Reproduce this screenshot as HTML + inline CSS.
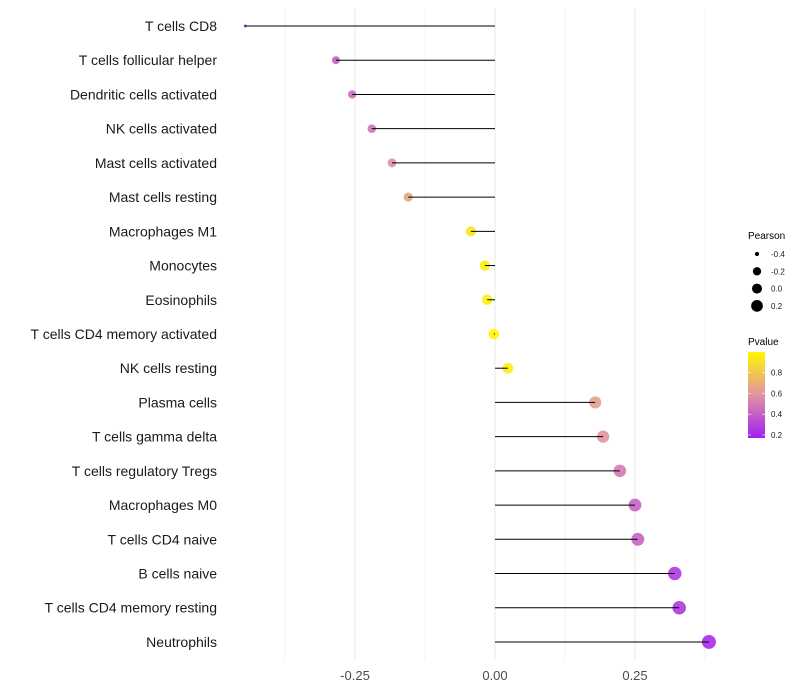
<!DOCTYPE html>
<html><head><meta charset="utf-8"><style>
body{margin:0;background:#fff;}
svg{display:block;font-family:"Liberation Sans",sans-serif;}
</style></head><body>
<svg id="chart" width="800" height="700" viewBox="0 0 800 700">
<g id="grid"></g>
<g id="ylabels"></g>
<g id="marks"></g>
<g id="xticks"></g>
<g id="legend">
<text x="748" y="239" font-size="10" fill="#000">Pearson</text>
<g id="sizeleg"></g>
<text x="748" y="345" font-size="10" fill="#000">Pvalue</text>
<defs><linearGradient id="pg" x1="0" y1="1" x2="0" y2="0">
<stop offset="0" stop-color="#a21ff0"/><stop offset="0.5" stop-color="#e094a4"/><stop offset="1" stop-color="#fff700"/></linearGradient></defs>
<rect x="748" y="352" width="17" height="86" fill="url(#pg)"/>
<g id="colleg"></g>
</g>
</svg>
<script>
const categories=["T cells CD8","T cells follicular helper","Dendritic cells activated","NK cells activated","Mast cells activated","Mast cells resting","Macrophages M1","Monocytes","Eosinophils","T cells CD4 memory activated","NK cells resting","Plasma cells","T cells gamma delta","T cells regulatory  Tregs ","Macrophages M0","T cells CD4 naive","B cells naive","T cells CD4 memory resting","Neutrophils"];
const pearson=[-0.446,-0.284,-0.255,-0.220,-0.184,-0.155,-0.043,-0.018,-0.014,-0.002,0.023,0.179,0.193,0.223,0.250,0.255,0.321,0.329,0.382];
const pvalue=[0.18,0.40,0.44,0.48,0.58,0.66,0.92,0.97,0.97,1.0,0.96,0.64,0.6,0.5,0.42,0.42,0.27,0.27,0.22];
const xTicks=[-0.25,0,0.25];
const xTickLabels=["-0.25","0.00","0.25"];
const sizeLegend=[-0.4,-0.2,0.0,0.2];
const sizeLegendLabels=["-0.4","-0.2","0.0","0.2"];
const colorLegend=[0.2,0.4,0.6,0.8];
const colorLegendLabels=["0.2","0.4","0.6","0.8"];

const NS="http://www.w3.org/2000/svg";
const X=v=>495+560*v;
const Y=i=>26+i*34.22;
const R=v=>v<-0.284?Math.max(1.3,4+(v+0.284)*15.4):5.28+4.5*v;
const PY=p=>437-(p-0.18)/(1.0-0.18)*85;
function lerp(a,b,t){return a.map((x,k)=>Math.round(x+(b[k]-x)*t));}
function col(p){const t=Math.min(1,Math.max(0,(p-0.18)/0.82));
 const c0=[162,31,240],c1=[224,148,164],c2=[255,247,0];
 const c=t<0.5?lerp(c0,c1,t/0.5):lerp(c1,c2,(t-0.5)/0.5);return `rgb(${c})`;}
function mk(tag,at,parent){const e=document.createElementNS(NS,tag);for(const k in at)e.setAttribute(k,at[k]);parent.appendChild(e);return e;}
const grid=document.getElementById('grid');
[-0.375,-0.25,-0.125,0,0.125,0.25,0.375].forEach(v=>{
 const l=mk('line',{x1:X(v),x2:X(v),y1:8,y2:660,stroke:'#ebebeb','stroke-width':(v*8)%2===0?1.1:0.6},grid);
 
 
});
const yl=document.getElementById('ylabels'),marks=document.getElementById('marks');
categories.forEach((c,i)=>{
 const t=mk('text',{x:217,y:Y(i)+5,'text-anchor':'end','font-size':14,fill:'#1a1a1a'},yl);t.textContent=c;
 
 
 const d=mk('circle',{cx:X(pearson[i]),cy:Y(i),r:R(pearson[i]),fill:col(pvalue[i]),'fill-opacity':0.9},marks);
 
 
 const l=mk('line',{x1:X(0),x2:X(pearson[i]),y1:Y(i),y2:Y(i),stroke:'#000','stroke-width':1},marks);
 
 
});
const xt=document.getElementById('xticks');
xTicks.forEach((v,i)=>{
 const t=mk('text',{x:X(v),y:680,'text-anchor':'middle','font-size':13,fill:'#4d4d4d'},xt);t.textContent=xTickLabels[i];
 
 
});
const sl=document.getElementById('sizeleg');
sizeLegend.forEach((v,i)=>{
 const y=254+i*17.3;
 const c=mk('circle',{cx:757,cy:y,r:R(v)*0.95,fill:'#000'},sl);
 
 
 const t=mk('text',{x:771,y:y+3,'font-size':8,fill:'#1a1a1a'},sl);t.textContent=sizeLegendLabels[i];
 
 
});
const cl=document.getElementById('colleg');
colorLegend.forEach((p,i)=>{
 const y=PY(p);
 mk('line',{x1:748,x2:751,y1:y,y2:y,stroke:'#fff','stroke-width':0.6},cl);
 mk('line',{x1:762,x2:765,y1:y,y2:y,stroke:'#fff','stroke-width':0.6},cl);
 const t=mk('text',{x:771,y:y+3,'font-size':8,fill:'#1a1a1a'},cl);t.textContent=colorLegendLabels[i];
 
 
});
</script>
</body></html>
